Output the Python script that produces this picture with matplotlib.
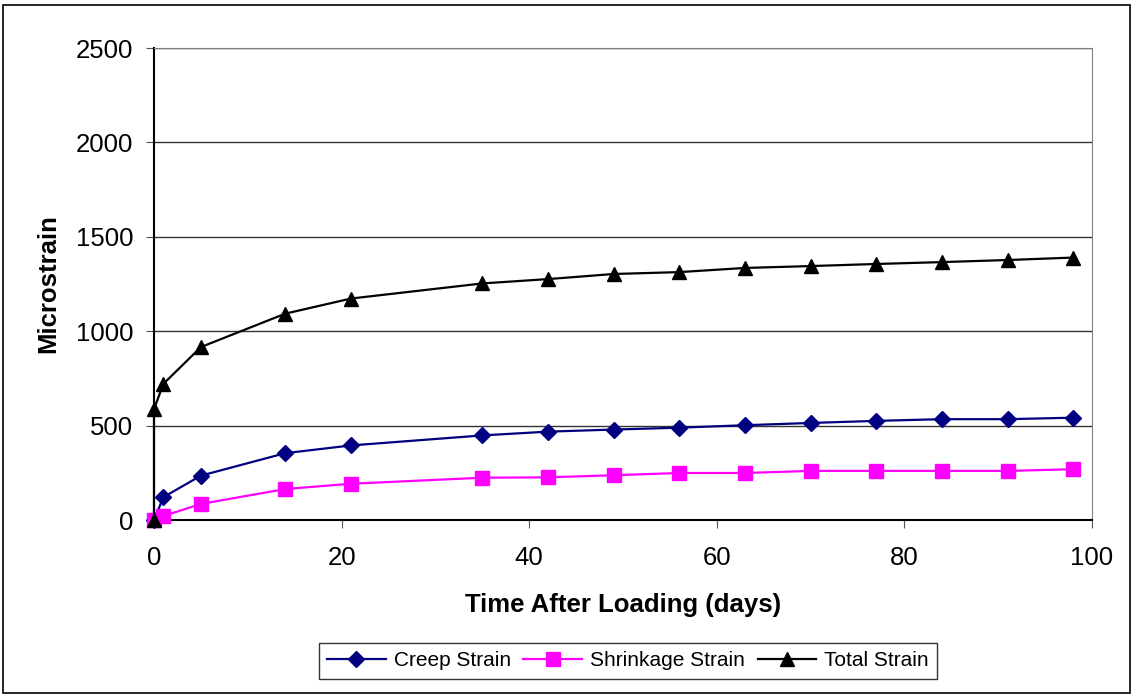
import numpy as np
import matplotlib.pyplot as plt
from matplotlib.patches import Rectangle

plt.rcParams['font.family'] = ['Liberation Sans', 'DejaVu Sans']

days = [0, 1, 5, 14, 21, 35, 42, 49, 56, 63, 70, 77, 84, 91, 98]
creep = [0, 121, 235, 354, 395, 448, 468, 479, 489, 502, 514, 525, 534, 534, 542]
shrink = [0, 21, 85, 164, 192, 224, 226, 237, 249, 249, 260, 260, 260, 260, 269]
total_days = [0, 0, 1, 5, 14, 21, 35, 42, 49, 56, 63, 70, 77, 84, 91, 98]
total = [0, 587, 721, 916, 1093, 1173, 1253, 1276, 1303, 1313, 1335, 1345, 1356, 1366, 1377, 1390]

fig = plt.figure(figsize=(11.33, 6.96), dpi=100)
ax = fig.add_axes([154/1133, 1-520/696, (1092-154)/1133, (520-48)/696])

ax.plot(days, creep, color='#000080', marker='D', ms=8, lw=1.6, label='Creep Strain', clip_on=False, zorder=3)
ax.plot(days, shrink, color='#ff00ff', marker='s', ms=10, lw=1.6, label='Shrinkage Strain', clip_on=False, zorder=3)
ax.plot(total_days, total, color='black', marker='^', ms=10, lw=1.6, label='Total Strain', clip_on=False, zorder=4)

ax.set_xlim(0, 100)
ax.set_ylim(0, 2500)
ax.set_xticks(np.arange(0, 101, 20))
ax.set_yticks(np.arange(0, 2501, 500))
ax.yaxis.grid(True, color='#333333', lw=1)
ax.set_axisbelow(True)
for s in ['top', 'right']:
    ax.spines[s].set_color('#808080')
for s in ['left', 'bottom']:
    ax.spines[s].set_color('black')
    ax.spines[s].set_linewidth(1.5)
ax.tick_params(axis='both', labelsize=18.5, length=6, color='#555555')
ax.tick_params(axis='x', pad=13)
ax.tick_params(axis='y', pad=9)

ax.set_xlabel('Time After Loading (days)', fontsize=18.5, fontweight='bold', labelpad=16)
ax.set_ylabel('Microstrain', fontsize=18.5, fontweight='bold', labelpad=11)

leg = fig.legend(loc='center', bbox_to_anchor=(628/1133, 1-661/696), ncol=3, fontsize=15,
                 frameon=True, fancybox=False, edgecolor='black', handlelength=2.8,
                 columnspacing=0.6, handletextpad=0.4, borderpad=0.4)
leg.get_frame().set_linewidth(1)

fig.patches.append(Rectangle((3/1133, 3/696), 1127/1133, 688/696, transform=fig.transFigure,
                             fill=False, edgecolor='black', lw=1.2))

fig.savefig('out.png', dpi=100)
